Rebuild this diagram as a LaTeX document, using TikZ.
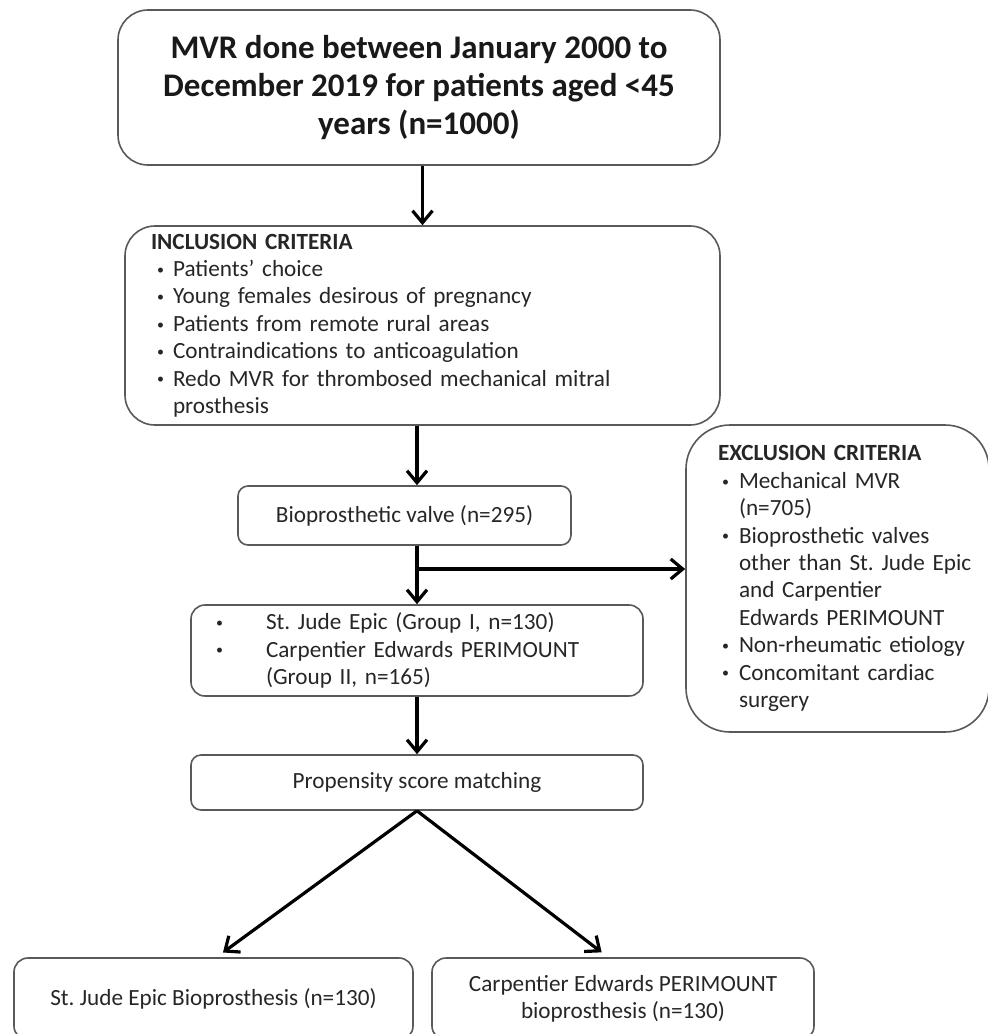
\documentclass[tikz,border=0pt]{standalone}
\usepackage{fontspec}
\setmainfont{Carlito}
\usetikzlibrary{arrows.meta}
\frenchspacing

% bullet line: [bullet shift]{text indent}{text}
\newcommand{\dotb}{\raisebox{0.2ex}{\fontsize{7}{7}\selectfont\textbullet}}
\newcommand{\itm}[3][0pt]{\mbox{\makebox[#2][l]{\hspace{#1}\dotb}#3}}
\newcommand{\cont}[2]{\mbox{\hspace*{#1}#2}}

\begin{document}
\begin{tikzpicture}[x=0.5pt,y=-0.5pt,
  box/.style={draw=black!65, line width=0.8pt, rounded corners=#1, inner sep=0pt, text=black!85},
  box/.default=5pt,
  body/.style={font=\fontsize{11.6}{13.7}\selectfont},
  arr/.style={draw=black, line width=1.6pt, -{Straight Barb[length=6pt,width=10pt,line width=1.6pt]}}]
\clip (0,0) rectangle (988,1034);

\node[box=15pt, minimum width=301pt, minimum height=77.5pt, align=center,
      font=\fontsize{16.5}{19}\selectfont\bfseries, text=black!90] (start) at (419,87.5)
  {MVR done between January 2000 to\\December 2019 for patients aged <45\\years (n=1000)};

\node[box=15pt, body, minimum width=297.5pt, minimum height=99.5pt, text width=271.5pt, align=left] (incl) at (422.5,325.5)
  {\textbf{INCLUSION CRITERIA}\\
   \itm[3pt]{11pt}{Patients' choice}\\
   \itm[3pt]{11pt}{Young females desirous of pregnancy}\\
   \itm[3pt]{11pt}{Patients from remote rural areas}\\
   \itm[3pt]{11pt}{Contraindications to anticoagulation}\\
   \itm[3pt]{11pt}{Redo MVR for thrombosed mechanical mitral}\\
   \cont{11pt}{prosthesis}};

\node[box=22pt, body, minimum width=151.5pt, minimum height=153.5pt, text width=119.5pt, align=left] (excl) at (837.5,578.5)
  {\textbf{EXCLUSION CRITERIA}\\
   \itm[2pt]{10.5pt}{Mechanical MVR}\\
   \cont{10.5pt}{(n=705)}\\
   \itm[2pt]{10.5pt}{Bioprosthetic valves}\\
   \cont{10.5pt}{other than St. Jude Epic}\\
   \cont{10.5pt}{and Carpentier}\\
   \cont{10.5pt}{Edwards PERIMOUNT}\\
   \itm[2pt]{10.5pt}{Non-rheumatic etiology}\\
   \itm[2pt]{10.5pt}{Concomitant cardiac}\\
   \cont{10.5pt}{surgery}};

\node[box, body, minimum width=166.5pt, minimum height=29.5pt] (bio) at (404.5,515.5)
  {Bioprosthetic valve (n=295)};

\node[box=7pt, body, minimum width=226pt, minimum height=45.5pt, text width=201pt, align=left] (grp) at (417,650.5)
  {\itm{25pt}{St. Jude Epic (Group I, n=130)}\\
   \itm{25pt}{Carpentier Edwards PERIMOUNT}\\
   \cont{25pt}{(Group II, n=165)}};

\node[box, body, minimum width=226pt, minimum height=27.5pt] (psm) at (417,782.5)
  {Propensity score matching};

\node[box=7pt, body, minimum width=199.5pt, minimum height=41pt] (sje) at (213.5,999)
  {St. Jude Epic Bioprosthesis (n=130)};

\node[box=7pt, body, minimum width=191pt, minimum height=41pt, align=center] (cep) at (623,999)
  {Carpentier Edwards PERIMOUNT\\bioprosthesis (n=130)};

\coordinate (split) at (417,569);

\draw[arr] (incl.north |- start.south) -- (incl.north);
\draw[arr] (grp.north |- incl.south) -- (grp.north |- bio.north);
\draw[arr] (grp.north |- bio.south) -- (grp.north);
\draw[arr] (split) -- (split -| excl.west);
\draw[arr] (grp.south) -- (psm.north);
\draw[arr, shorten >=4pt] (psm.south) -- ([xshift=1.5pt]sje.north);
\draw[arr, shorten >=4pt] (psm.south) -- ([xshift=-7.5pt]cep.north);
\end{tikzpicture}
\end{document}
